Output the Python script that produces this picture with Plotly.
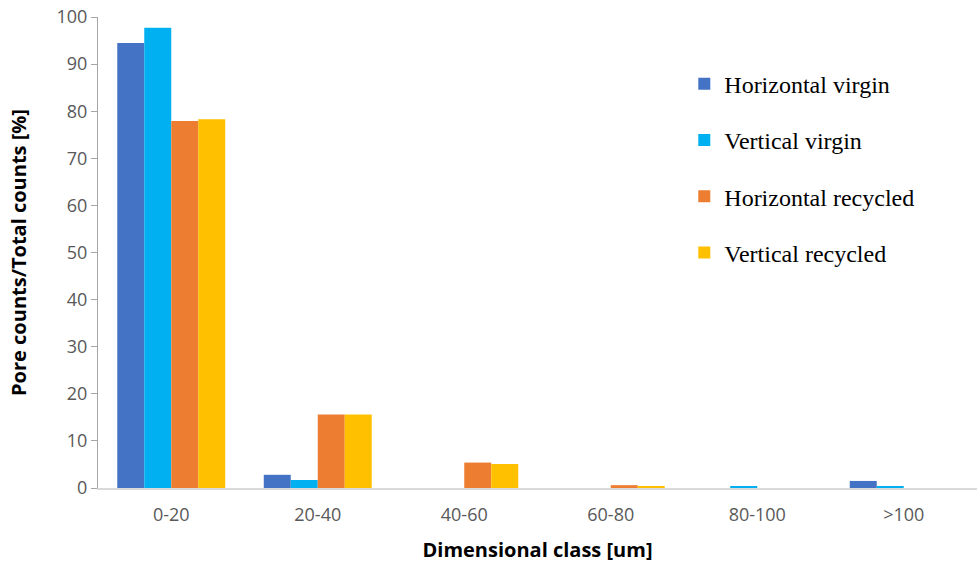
import plotly.graph_objects as go

categories = ["0-20", "20-40", "40-60", "60-80", "80-100", ">100"]
horizontal_virgin = [94.5, 2.8, 0.0, 0.0, 0.0, 1.5]
vertical_virgin = [97.7, 1.7, 0.0, 0.0, 0.3, 0.3]
horizontal_recycled = [77.9, 15.6, 5.4, 0.6, 0.0, 0.0]
vertical_recycled = [78.3, 15.6, 5.1, 0.4, 0.0, 0.0]

series = [
    ("Horizontal virgin", horizontal_virgin, "#4472C4"),
    ("Vertical virgin", vertical_virgin, "#00B0F0"),
    ("Horizontal recycled", horizontal_recycled, "#ED7D31"),
    ("Vertical recycled", vertical_recycled, "#FFC000"),
]

fig = go.Figure()
for i, (name, vals, col) in enumerate(series):
    fig.add_trace(go.Bar(x=categories, y=vals, name=name, marker_color=col,
                         marker_line_width=0, legendgroup=str(i)))

fig.update_layout(
    width=977, height=566,
    margin=dict(l=98, r=0, t=17, b=78),
    plot_bgcolor="white", paper_bgcolor="white",
    barmode="group", bargap=0.263, bargroupgap=0,
    font=dict(family="Open Sans", color="#595959", size=18),
    showlegend=True,
    legend=dict(x=0.667, y=0.905, xanchor="left", yanchor="top",
                font=dict(family="Liberation Serif", size=24, color="#000000"),
                tracegroupgap=22, traceorder="grouped",
                bgcolor="rgba(0,0,0,0)"),
    xaxis=dict(showline=True, linecolor="#D9D9D9", linewidth=1.5,
               ticks="outside", ticklen=10, tickcolor="rgba(0,0,0,0)",
               tickfont=dict(size=18, color="#595959"),
               title=dict(text="<b>Dimensional class [um]</b>", standoff=18,
                          font=dict(size=20, color="#000000"))),
    yaxis=dict(range=[0, 100], dtick=10, showgrid=False, showline=True,
               linecolor="#A6A6A6", linewidth=1, ticks="outside", ticklen=6,
               tickcolor="#A6A6A6", zeroline=False,
               tickfont=dict(size=18, color="#595959"),
               title=dict(text="<b>Pore counts/Total counts [%]</b>", standoff=24,
                          font=dict(size=20, color="#000000"))),
)

fig.write_html("out.html", config={"displayModeBar": False},
               post_script="document.body.style.margin='0px';")
